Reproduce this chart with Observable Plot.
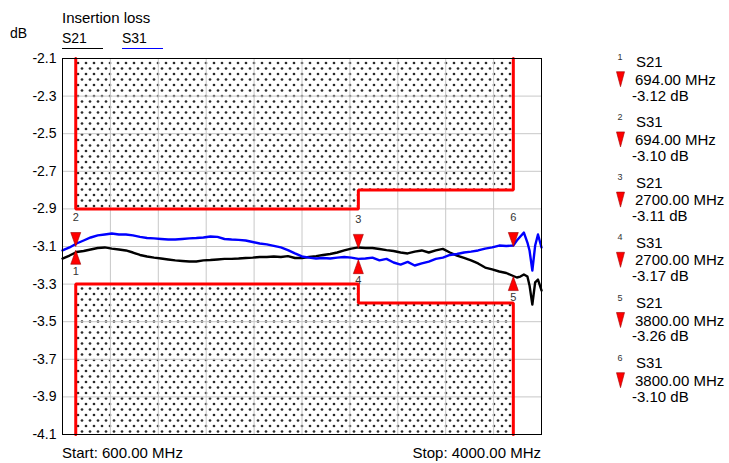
<!DOCTYPE html>
<html><head><meta charset="utf-8">
<script src="https://cdn.jsdelivr.net/npm/d3@7"></script>
<script src="https://cdn.jsdelivr.net/npm/@observablehq/plot@0.6"></script>
<style>
body{margin:0;background:#fff;}
#wrap{position:relative;width:729px;height:463px;font-family:"Liberation Sans",Arial,sans-serif;}
#wrap svg{position:absolute;left:0;top:0;}
</style></head><body><div id="wrap"></div>
<script>
// ---- data ----
const chartTitle = "Insertion loss";
const yUnit = "dB";
const seriesNames = ["S21", "S31"];
const seriesColors = ["#000000", "#0000ff"];
const startLabel = "Start: 600.00 MHz";
const stopLabel = "Stop: 4000.00 MHz";
const xDomain = [600, 4000];
const yTicks = [-2.1, -2.3, -2.5, -2.7, -2.9, -3.1, -3.3, -3.5, -3.7, -3.9, -4.1];
const xGrid = [940, 1280, 1620, 1960, 2300, 2640, 2980, 3320, 3660];

const freqs = [600,650,700,750,800,850,900,950,1000,1050,1100,1150,1200,1250,1300,1350,1400,1450,1500,1550,
  1600,1650,1700,1750,1800,1850,1900,1950,2000,2050,2100,2150,2200,2250,2300,2350,2400,2450,2500,2550,
  2600,2650,2700,2750,2800,2850,2900,2950,3000,3050,3100,3150,3200,3250,3300,3350,3400,3450,3500,3550,
  3600,3650,3700,3750,3800,3825,3850,3875,3900,3915,3935,3955,3975,4000];
const s21 = [-3.164,-3.148,-3.129,-3.124,-3.116,-3.108,-3.105,-3.111,-3.116,-3.121,-3.132,-3.145,-3.153,-3.159,-3.164,-3.169,-3.174,-3.177,-3.180,-3.180,
  -3.174,-3.172,-3.169,-3.166,-3.166,-3.164,-3.161,-3.159,-3.156,-3.156,-3.153,-3.156,-3.151,-3.161,-3.161,-3.156,-3.151,-3.145,-3.140,-3.132,
  -3.121,-3.111,-3.105,-3.108,-3.108,-3.113,-3.119,-3.124,-3.132,-3.137,-3.127,-3.121,-3.132,-3.121,-3.113,-3.132,-3.148,-3.161,-3.174,-3.190,
  -3.212,-3.222,-3.233,-3.241,-3.257,-3.265,-3.260,-3.249,-3.260,-3.307,-3.409,-3.291,-3.276,-3.334];
const s31 = [-3.121,-3.105,-3.084,-3.068,-3.052,-3.041,-3.036,-3.031,-3.036,-3.036,-3.041,-3.049,-3.055,-3.057,-3.060,-3.063,-3.063,-3.060,-3.057,-3.055,
  -3.052,-3.047,-3.049,-3.060,-3.063,-3.065,-3.068,-3.076,-3.084,-3.089,-3.097,-3.105,-3.119,-3.137,-3.153,-3.159,-3.164,-3.161,-3.164,-3.159,
  -3.156,-3.159,-3.166,-3.164,-3.159,-3.174,-3.166,-3.185,-3.196,-3.182,-3.201,-3.190,-3.180,-3.166,-3.159,-3.145,-3.140,-3.132,-3.127,-3.121,
  -3.111,-3.105,-3.095,-3.097,-3.095,-3.068,-3.047,-3.026,-3.079,-3.121,-3.228,-3.095,-3.036,-3.105];

const limitStart = [694, 2700];
const limitStop = [2700, 3800];
const limitUpper = [-2.9, -2.8];
const limitLower = [-3.3, -3.4];

const markerIds = [1, 2, 3, 4, 5, 6];
const markerTrace = ["S21", "S31", "S21", "S31", "S21", "S31"];
const markerFreq = [694, 694, 2700, 2700, 3800, 3800];
const markerValue = [-3.12, -3.10, -3.11, -3.17, -3.26, -3.10];
const markerDir = ["up", "down", "down", "up", "up", "down"];

// ---- derived tables ----
const yTop = yTicks[0], yBottom = yTicks[yTicks.length - 1];
const traces = [];
freqs.forEach((f, i) => {
  traces.push({f, v: s21[i], s: "S21"});
  traces.push({f, v: s31[i], s: "S31"});
});
const segs = limitStart.map((s, i) => ({s, e: limitStop[i], up: limitUpper[i], lo: limitLower[i]}));
const upperPath = [{f: limitStart[0], v: yTop}];
const lowerPath = [{f: limitStart[0], v: yBottom}];
segs.forEach(d => {
  upperPath.push({f: d.s, v: d.up}, {f: d.e, v: d.up});
  lowerPath.push({f: d.s, v: d.lo}, {f: d.e, v: d.lo});
});
upperPath.push({f: limitStop[limitStop.length - 1], v: yTop});
lowerPath.push({f: limitStop[limitStop.length - 1], v: yBottom});
const markers = markerIds.map((id, i) => ({id, t: markerTrace[i], f: markerFreq[i], v: markerValue[i], dir: markerDir[i]}));

const triDown = {draw(ctx) { ctx.moveTo(0, 0); ctx.lineTo(-5, -14); ctx.lineTo(5, -14); ctx.closePath(); }};
const triUp = {draw(ctx) { ctx.moveTo(0, 0); ctx.lineTo(-5, 14); ctx.lineTo(5, 14); ctx.closePath(); }};

const FONT = "'Liberation Sans', Arial, sans-serif";
const svg = Plot.plot({
  width: 729, height: 463,
  marginLeft: 62, marginRight: 188, marginTop: 58, marginBottom: 29,
  style: {fontFamily: FONT, fontSize: "14px", color: "#000", background: "transparent", overflow: "visible"},
  x: {domain: xDomain, axis: null},
  y: {domain: [yBottom, yTop], axis: null},
  marks: [
    Plot.rect(segs, {x1: "s", x2: "e", y1: "up", y2: yTop, fill: "url(#dots)"}),
    Plot.rect(segs, {x1: "s", x2: "e", y1: "lo", y2: yBottom, fill: "url(#dots)"}),
    Plot.ruleY(yTicks, {stroke: "#c8c8c8", strokeWidth: 1}),
    Plot.ruleX(xGrid, {stroke: "#c8c8c8", strokeWidth: 1}),
    Plot.axisY(yTicks, {tickSize: 0, tickPadding: 6, tickFormat: d => d.toFixed(1), fontSize: 14, label: null}),
    Plot.line(upperPath, {x: "f", y: "v", stroke: "#ff0000", strokeWidth: 3, strokeLinejoin: "miter"}),
    Plot.line(lowerPath, {x: "f", y: "v", stroke: "#ff0000", strokeWidth: 3, strokeLinejoin: "miter"}),
    Plot.line(traces.filter(d => d.s === "S21"), {x: "f", y: "v", stroke: seriesColors[0], strokeWidth: 2.4}),
    Plot.line(traces.filter(d => d.s === "S31"), {x: "f", y: "v", stroke: seriesColors[1], strokeWidth: 2.4}),
    Plot.dot(markers.filter(d => d.dir === "down"), {x: "f", y: "v", symbol: triDown, fill: "#ff0000", stroke: "#a00000", strokeWidth: 0.6}),
    Plot.dot(markers.filter(d => d.dir === "up"), {x: "f", y: "v", symbol: triUp, fill: "#ff0000", stroke: "#a00000", strokeWidth: 0.6}),
    Plot.text(markers.filter(d => d.dir === "down"), {x: "f", y: "v", text: "id", dy: -29, fontSize: 11, fill: "#333"}),
    Plot.text(markers.filter(d => d.dir === "up"), {x: "f", y: "v", text: "id", dy: 21, fontSize: 11, fill: "#333"}),
    Plot.frame({stroke: "#000", strokeWidth: 1})
  ]
});

// dotted hatch pattern
const ns = "http://www.w3.org/2000/svg";
const defs = document.createElementNS(ns, "defs");
const pat = document.createElementNS(ns, "pattern");
pat.setAttribute("id", "dots");
pat.setAttribute("patternUnits", "userSpaceOnUse");
pat.setAttribute("width", 8);
pat.setAttribute("height", 11);
[[2, 2.5], [6, 8]].forEach(([cx, cy]) => {
  const c = document.createElementNS(ns, "circle");
  c.setAttribute("cx", cx); c.setAttribute("cy", cy); c.setAttribute("r", 1.35);
  c.setAttribute("fill", "#2a2a2a");
  pat.appendChild(c);
});
defs.appendChild(pat);
svg.insertBefore(defs, svg.firstChild);
document.getElementById("wrap").appendChild(svg);

// ---- overlay annotations ----
const ov = d3.select("#wrap").append("svg").attr("width", 729).attr("height", 463)
  .style("font-family", FONT).style("pointer-events", "none");
function txt(x, y, s, size, anchor, fill) {
  return ov.append("text").attr("x", x).attr("y", y).attr("dominant-baseline", "central")
    .attr("text-anchor", anchor || "start").style("font-size", size + "px").attr("fill", fill || "#000").text(s);
}
txt(62, 17, chartTitle, 15);
txt(10, 33, yUnit, 14);
seriesNames.forEach((n, i) => {
  const x = 62 + i * 60;
  txt(x, 38, n, 14);
  ov.append("line").attr("x1", x).attr("x2", x + 41).attr("y1", 48.5).attr("y2", 48.5)
    .attr("stroke", seriesColors[i]).attr("stroke-width", 1.2);
});
txt(62, 452, startLabel, 15);
txt(541, 452, stopLabel, 15, "end");
markers.forEach((m, i) => {
  const c = 61.7 + i * 60.2;
  txt(620, c - 5, String(m.id), 9, "middle", "#333");
  txt(636, c, m.t, 15);
  txt(635, c + 17.6, m.f.toFixed(2) + " MHz", 15);
  txt(632, c + 33.3, m.v.toFixed(2) + " " + yUnit, 15);
  ov.append("path").attr("d", `M${616.5},${c + 10}L${624.5},${c + 10}L${620.5},${c + 25}Z`)
    .attr("fill", "#ff0000").attr("stroke", "#a00000").attr("stroke-width", 0.6);
});
</script></body></html>
